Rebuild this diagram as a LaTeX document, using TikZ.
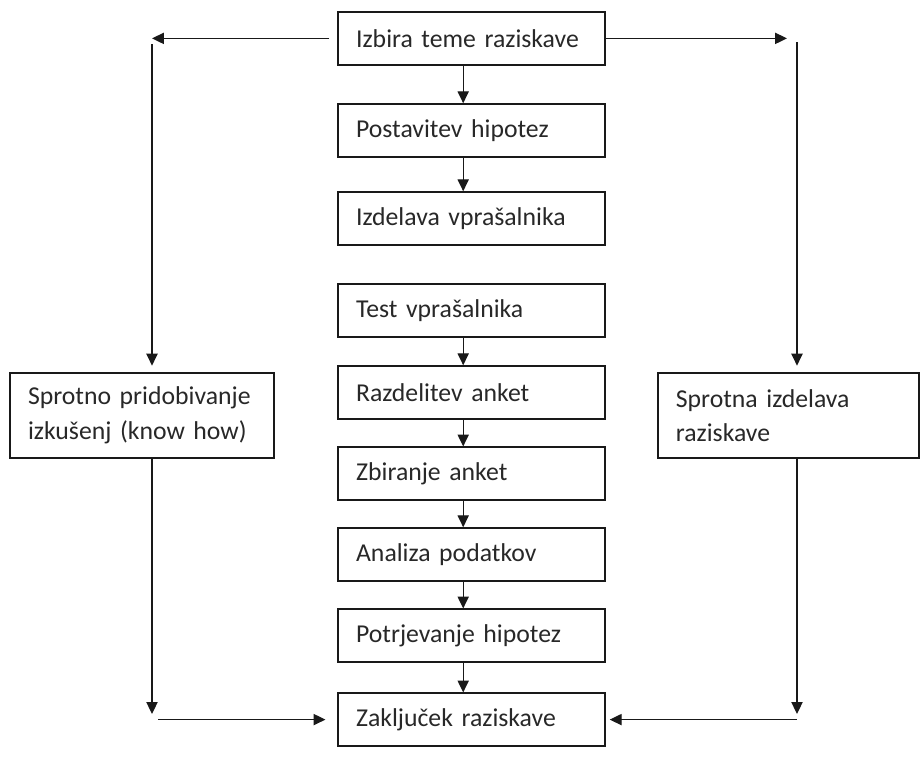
\documentclass[tikz,border=0pt]{standalone}
\usepackage{fontspec}
\setmainfont{Carlito}
\usetikzlibrary{
    arrows.meta,
    positioning,
    calc
}
\definecolor{bgWhite}{RGB}{255, 255, 255}
\definecolor{lineBlack}{RGB}{25, 25, 25}
\definecolor{textBlack}{RGB}{40, 40, 40}
\def\picW{23.025}
\def\picH{19.45}
\tikzset{
    stepBox/.style={
        rectangle,
        draw=lineBlack,
        line width=0.9pt,
        fill=bgWhite,
        minimum height=1.325cm,
        text width=5.775cm,
        inner xsep=0.45cm,
        align=left,
        text=textBlack,
        font=\fontsize{18.3}{24.7}\selectfont
    },
    sideBox/.style={
        stepBox,
        minimum height=2.125cm
    },
    connector/.style={
        line width=0.9pt,
        draw=lineBlack,
        -{Triangle[length=8.5pt, width=8pt]}
    }
}

\begin{document}
\begin{tikzpicture}
    \useasboundingbox (0,0) rectangle (\picW, \picH);
    \fill[bgWhite] (0,0) rectangle (\picW, \picH);

    % Main column
    \node[stepBox] (izbira) at (11.79, 18.49) {Izbira teme raziskave};
    \node[stepBox] (postavitev) at (11.79, 16.19) {Postavitev hipotez};
    \node[stepBox] (izdelava) at (11.79, 13.99) {Izdelava vprašalnika};
    \node[stepBox] (test) at (11.79, 11.69) {Test vprašalnika};
    \node[stepBox] (razdelitev) at (11.79, 9.64) {Razdelitev anket};
    \node[stepBox] (zbiranje) at (11.79, 7.61) {Zbiranje anket};
    \node[stepBox] (analiza) at (11.79, 5.59) {Analiza podatkov};
    \node[stepBox] (potrjevanje) at (11.79, 3.56) {Potrjevanje hipotez};
    \node[stepBox] (zakljucek) at (11.79, 1.46) {Zaključek raziskave};

    % Side boxes
    \node[sideBox, text width=5.7cm] (izkusnje) at (3.55, 9.06) {Sprotno pridobivanje\\izkušenj (know how)};
    \node[sideBox, text width=5.625cm] (sprotna) at (19.71, 9.06) {Sprotna izdelava\\raziskave};

    % Corners
    \coordinate (topLeft) at (3.8, 18.49);
    \coordinate (topRight) at (19.925, 18.49);
    \coordinate (bottomLeft) at (3.8, 1.46);
    \coordinate (bottomRight) at (19.925, 1.46);

    % Edges
    \draw[connector] ([xshift=-0.21cm]izbira.south) -- ([xshift=-0.21cm]postavitev.north);
    \draw[connector] ([xshift=-0.21cm]postavitev.south) -- ([xshift=-0.21cm]izdelava.north);
    \draw[connector] ([xshift=-0.21cm]test.south) -- ([xshift=-0.21cm]razdelitev.north);
    \draw[connector] ([xshift=-0.21cm]razdelitev.south) -- ([xshift=-0.21cm]zbiranje.north);
    \draw[connector] ([xshift=-0.21cm]zbiranje.south) -- ([xshift=-0.21cm]analiza.north);
    \draw[connector] ([xshift=-0.21cm]analiza.south) -- ([xshift=-0.21cm]potrjevanje.north);
    \draw[connector] ([xshift=-0.21cm]potrjevanje.south) -- ([xshift=-0.21cm]zakljucek.north);

    % Left branch
    \draw[connector, shorten <=0.2cm] (izbira.west) -- (topLeft);
    \draw[connector, shorten >=0.17cm] ([yshift=-0.15cm]topLeft) -- (izkusnje.north -| topLeft);
    \draw[connector] (izkusnje.south -| bottomLeft) -- ([yshift=0.14cm]bottomLeft);
    \draw[connector, shorten >=0.3cm] ([xshift=0.15cm]bottomLeft) -- (zakljucek.west);

    % Right branch
    \draw[connector] (izbira.east) -- ([xshift=-0.25cm]topRight);
    \draw[connector, shorten >=0.17cm] ([yshift=-0.1cm]topRight) -- (sprotna.north -| topRight);
    \draw[connector] (sprotna.south -| bottomRight) -- ([yshift=0.14cm]bottomRight);
    \draw[connector, shorten >=0.1cm] (bottomRight) -- (zakljucek.east);
\end{tikzpicture}
\end{document}
